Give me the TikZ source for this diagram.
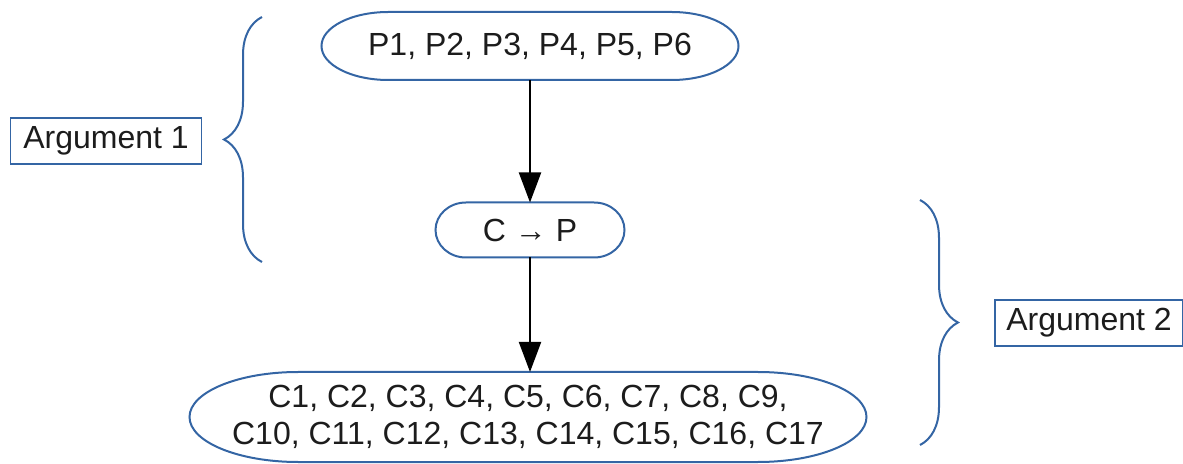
\documentclass[tikz,border=0pt]{standalone}
\usepackage{fontspec}
\setmainfont{Liberation Sans}
\usetikzlibrary{arrows.meta,decorations.pathreplacing}
\definecolor{lineblue}{HTML}{3465A4}
\definecolor{textgray}{HTML}{1C1C1C}
\tikzset{
  flowtext/.style={inner sep=0pt, outer sep=0pt, align=center, text=textgray,
    font=\fontsize{16}{18.5}\selectfont},
  argbox/.style={draw=lineblue, line width=0.8pt, inner sep=0pt, text=textgray,
    minimum width=95.5pt, minimum height=23pt,
    font=\fontsize{16}{18.5}\selectfont},
  termline/.style={draw=lineblue, line width=1pt},
  flowarrow/.style={line width=1pt, -{Triangle[length=15pt,width=11pt]}},
  bracket/.style={draw=lineblue, line width=1pt, decorate,
    decoration={brace, amplitude=19pt}},
}
% outline of a terminator node: #1 node, #2 corner width, #3 half height
\newcommand{\terminal}[3]{%
  \draw[termline] ([xshift=#2]#1.north west) -- ([xshift=-#2]#1.north east)
    arc[start angle=90, end angle=-90, x radius=#2, y radius=#3]
    -- ([xshift=#2]#1.south west)
    arc[start angle=270, end angle=90, x radius=#2, y radius=#3] -- cycle;
}
\begin{document}
\begin{tikzpicture}[x=0.5pt,y=-0.5pt]
    \useasboundingbox (0,0) rectangle (1183,464);
    % flow
    \node[flowtext, minimum width=208.5pt, minimum height=34pt] (prem) at (530,46)
        {P1, P2, P3, P4, P5, P6};
    \node[flowtext, minimum width=94.5pt, minimum height=27.5pt] (cond) at (530,230)
        {C → P};
    \node[flowtext, minimum width=338.5pt, minimum height=45pt] (concl) at (528,417)
        {C1, C2, C3, C4, C5, C6, C7, C8, C9,\\
         C10, C11, C12, C13, C14, C15, C16, C17};
    \terminal{prem}{33.4pt}{17pt}
    \terminal{cond}{15.2pt}{13.75pt}
    \terminal{concl}{54.3pt}{22.5pt}
    \draw[flowarrow] (prem.south) -- (cond.north);
    \draw[flowarrow] (cond.south) -- (cond.south |- concl.north);
    % arguments
    \node[argbox] (arg1) at (106,141) {Argument 1};
    \node[argbox, minimum width=94pt] (arg2) at (1089,323) {Argument 2};
    \draw[bracket] (262,262) -- (262,17);
    \draw[bracket] (920,200) -- (920,445);
\end{tikzpicture}
\end{document}
